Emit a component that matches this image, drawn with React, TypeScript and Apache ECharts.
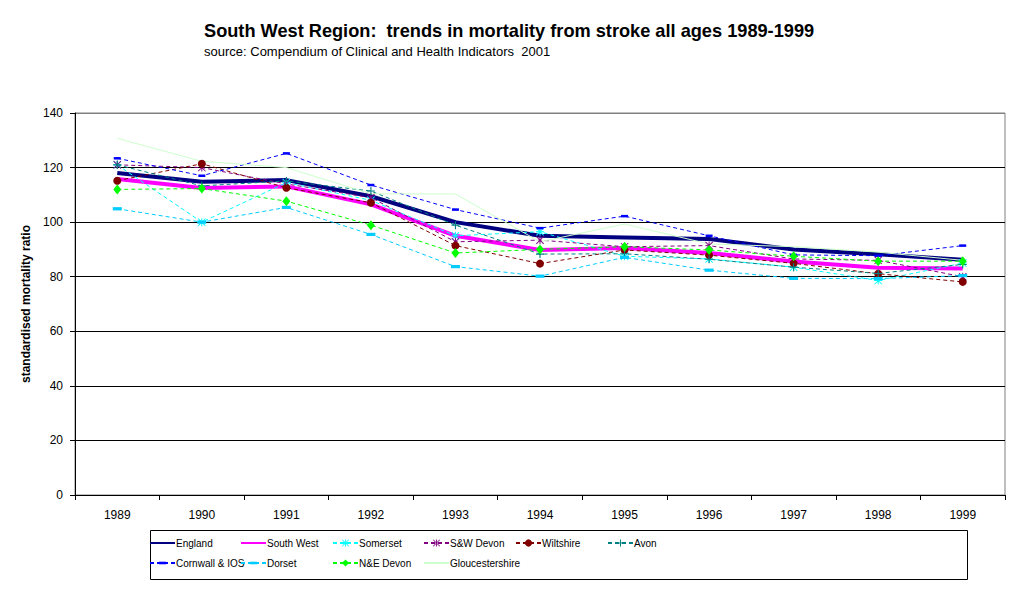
import React, { useEffect, useRef } from "react";
import * as echarts from "echarts";

// Years on the category axis
const years = ["1989", "1990", "1991", "1992", "1993", "1994", "1995", "1996", "1997", "1998", "1999"];

// Standardised mortality ratios, stroke, all ages
const england = [118, 114.8, 115.4, 109.5, 100, 95, 94.4, 93.8, 90, 88.2, 86.2];
const southWest = [115.8, 112.5, 113.1, 106.5, 95, 89.8, 90.5, 88.7, 85.6, 83.3, 83];
const somerset = [121, 100, 114.5, 108, 95, 96.5, 87.5, 86.5, 83.5, 78.6, 85];
const swDevon = [121, 120, 114, 109, 92.8, 93.4, 91, 91.4, 86.5, 86, 80];
const wiltshire = [115.2, 121.4, 112.6, 107.1, 91.4, 84.8, 89.8, 87.9, 84.9, 81.1, 78.1];
const avon = [121, 113.3, 115.1, 111.4, 98.9, 88.3, 88.4, 86.4, 83.5, 81.2, 84.5];
const cornwall = [123.4, 117, 125.2, 113.6, 104.6, 97.8, 102.2, 95, 88, 87.7, 91.4];
const dorset = [104.9, 100, 105.4, 95.5, 83.7, 80.2, 87.1, 82.4, 79.4, 79.3, 80.4];
const neDevon = [112, 112.3, 107.7, 98.9, 88.7, 90, 91, 89.8, 87.5, 85.7, 85.7];
const gloucestershire = [130.7, 122.3, 120, 110.4, 110.3, 92.8, 99.3, 92, 91, 89, 86];

// Marker shapes drawn as filled outlines (leading moves keep a square 10x10 box)
const ASTERISK =
  "path://M4.4,0H5.6V10H4.4Z M0,4.4H10V5.6H0Z M0.8,0L10,9.2L9.2,10L0,0.8Z M9.2,0L10,0.8L0.8,10L0,9.2Z";
const STAR_X = "path://M4.4,0H5.6V10H4.4Z M0.8,0L10,9.2L9.2,10L0,0.8Z M9.2,0L10,0.8L0.8,10L0,9.2Z";
const PLUS = "path://M4.3,0H5.7V10H4.3Z M0,4.3H10V5.7H0Z";
const DASH_MARK = "path://M0,0M10,10M0,3.2H10V6.8H0Z";

const FONT = "'Liberation Sans', Arial, sans-serif";
const DASH = [4, 3];

type SeriesDef = {
  name: string;
  data: number[];
  color: string;
  width: number;
  dashed: boolean;
  symbol: string;
  symbolSize: number | number[];
};

const seriesDefs: SeriesDef[] = [
  { name: "England", data: england, color: "#000080", width: 4, dashed: false, symbol: "none", symbolSize: 0 },
  { name: "South West", data: southWest, color: "#FF00FF", width: 4, dashed: false, symbol: "none", symbolSize: 0 },
  { name: "Somerset", data: somerset, color: "#00FFFF", width: 1, dashed: true, symbol: ASTERISK, symbolSize: 8 },
  { name: "S&W Devon", data: swDevon, color: "#800080", width: 1, dashed: true, symbol: STAR_X, symbolSize: 8 },
  { name: "Wiltshire", data: wiltshire, color: "#800000", width: 1, dashed: true, symbol: "circle", symbolSize: 8 },
  { name: "Avon", data: avon, color: "#008080", width: 1, dashed: true, symbol: PLUS, symbolSize: 8 },
  { name: "Cornwall & IOS", data: cornwall, color: "#0000FF", width: 1, dashed: true, symbol: DASH_MARK, symbolSize: 7 },
  { name: "Dorset", data: dorset, color: "#00CCFF", width: 1, dashed: true, symbol: DASH_MARK, symbolSize: 9 },
  { name: "N&E Devon", data: neDevon, color: "#00FF00", width: 1, dashed: true, symbol: "diamond", symbolSize: [8, 10] },
  { name: "Gloucestershire", data: gloucestershire, color: "#CCFFCC", width: 1, dashed: false, symbol: "none", symbolSize: 0 },
];

// Legend cell positions (left, top) in reading order
const legendCells: [number, number][] = [
  [149, 538], [240, 538], [332, 538], [423, 538], [515, 538], [607, 538],
  [149, 558], [240, 558], [332, 558], [423, 558],
];

export default function App() {
  const ref = useRef<HTMLDivElement>(null);

  useEffect(() => {
    if (!ref.current) return;
    const chart = echarts.init(ref.current, undefined, { renderer: "svg" });

    const series = seriesDefs.map((s) => ({
      name: s.name,
      type: "line",
      data: s.data,
      symbol: s.symbol,
      symbolSize: s.symbolSize,
      showSymbol: s.symbol !== "none",
      lineStyle: { color: s.color, width: s.width, type: s.dashed ? DASH : "solid" },
      itemStyle: { color: s.color },
      emphasis: { disabled: true },
      silent: true,
    }));

    const legends = seriesDefs.map((s, i) => ({
      left: legendCells[i][0],
      top: legendCells[i][1],
      padding: 0,
      itemWidth: 25,
      itemHeight: 9,
      selectedMode: false,
      data: [
        s.symbol === "none"
          ? { name: s.name, itemStyle: { opacity: 0 } }
          : { name: s.name },
      ],
      textStyle: { fontFamily: FONT, fontSize: 10, color: "#000", padding: [0, 0, 0, -4] },
    }));

    chart.setOption({
      animation: false,
      backgroundColor: "#fff",
      textStyle: { fontFamily: FONT },
      title: [
        {
          text: "South West Region:  trends in mortality from stroke all ages 1989-1999",
          left: 204,
          top: 22,
          padding: 0,
          textStyle: { fontFamily: FONT, fontSize: 18.2, fontWeight: "bold", color: "#000" },
        },
        {
          text: "source: Compendium of Clinical and Health Indicators  2001",
          left: 204,
          top: 45,
          padding: 0,
          textStyle: { fontFamily: FONT, fontSize: 13, fontWeight: "normal", color: "#000" },
        },
      ],
      legend: legends,
      grid: {
        left: 75,
        top: 113,
        width: 930,
        height: 382,
        show: true,
        borderColor: "#808080",
        borderWidth: 1,
        containLabel: false,
      },
      xAxis: {
        type: "category",
        data: years,
        boundaryGap: true,
        axisLine: { lineStyle: { color: "#000", width: 1 } },
        axisTick: { show: true, alignWithLabel: false, length: 5, lineStyle: { color: "#000" } },
        axisLabel: { fontFamily: FONT, fontSize: 12, color: "#000", margin: 14 },
        splitLine: { show: false },
      },
      yAxis: {
        type: "value",
        min: 0,
        max: 140,
        interval: 20,
        name: "standardised mortality ratio",
        nameLocation: "middle",
        nameGap: 37,
        nameTextStyle: { fontFamily: FONT, fontSize: 12, fontWeight: "bold", color: "#000" },
        axisLine: { show: true, lineStyle: { color: "#000", width: 1 } },
        axisTick: { show: true, length: 5, lineStyle: { color: "#000" } },
        axisLabel: { fontFamily: FONT, fontSize: 12, color: "#000", margin: 12 },
        splitLine: {
          show: true,
          lineStyle: {
            color: ["#000", "#000", "#000", "#000", "#000", "#000", "#000", "#808080"],
            width: 1,
          },
        },
      },
      graphic: [
        {
          type: "rect",
          left: 148,
          top: 528,
          shape: { width: 817, height: 49 },
          style: { fill: "none", stroke: "#000", lineWidth: 1 },
          silent: true,
          z: -1,
        },
      ],
      series,
    });

    return () => chart.dispose();
  }, []);

  return (
    <div
      ref={ref}
      style={{ position: "fixed", left: 0, top: 0, width: 1020, height: 591 }}
    />
  );
}
